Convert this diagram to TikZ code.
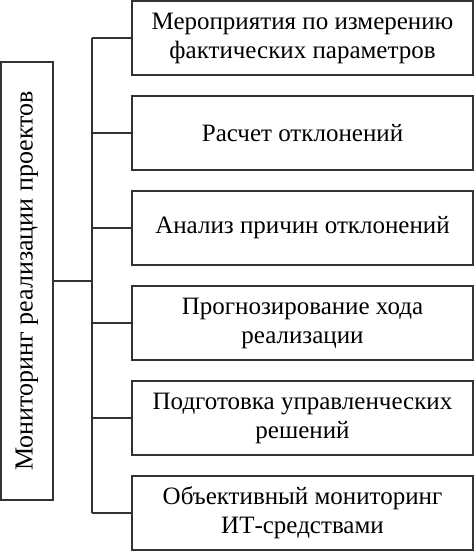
\documentclass[tikz,border=0pt]{standalone}
\usepackage{fontspec}
\setmainfont{Liberation Serif}
\begin{document}
\begin{tikzpicture}[x=1pt,y=1pt,
  item/.style={draw=black!80,line width=1.3pt,minimum width=341pt,minimum height=74pt,
    inner sep=0pt,align=center,font=\fontsize{25}{29}\selectfont},
  head/.style={draw=black!80,line width=1.3pt,minimum width=438pt,minimum height=52pt,
    inner sep=0pt,rotate=90,font=\fontsize{26}{29}\selectfont},
  link/.style={draw=black!80,line width=1.3pt}]
  \useasboundingbox (0,0) rectangle (474,551);
  \node[head] (main) at (27,270) {Мониторинг реализации проектов};
  \coordinate (bus) at (92,270); % vertical bus line
  \foreach \txt [count=\i] in {Мероприятия по измерению\\фактических параметров,
    Расчет отклонений,Анализ причин отклонений,Прогнозирование хода\\реализации,
    Подготовка управленческих\\решений,Объективный мониторинг\\ИТ-средствами}{
    \node[item] (box\i) at (302.5,{608-95*\i}) {\txt};
    \draw[link] (box\i.west) -- (box\i.west -| bus); % branch to box
  }
  \draw[link] (box1.west -| bus) -- (box6.west -| bus);
  \draw[link] (main.south) -- (main.south -| bus);
\end{tikzpicture}
\end{document}
